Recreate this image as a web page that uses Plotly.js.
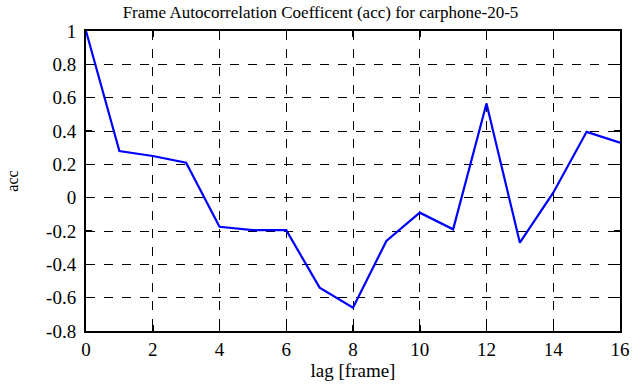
<!DOCTYPE html>
<html>
<head>
<meta charset="utf-8">
<script src="https://cdn.plot.ly/plotly-3.0.1.min.js"></script>
<style>html,body{margin:0;padding:0;background:#fff;}#chart{width:641px;height:387px;}</style>
</head>
<body>
<div id="chart"></div>
<script>
const lags = [0,1,2,3,4,5,6,7,8,9,10,11,12,13,14,15,16];
const acc = [1.0,0.28,0.25,0.21,-0.175,-0.195,-0.195,-0.54,-0.66,-0.26,-0.09,-0.19,0.565,-0.27,0.03,0.395,0.33];
const xTicks = [0,2,4,6,8,10,12,14,16];
const yTicks = [-0.8,-0.6,-0.4,-0.2,0,0.2,0.4,0.6,0.8,1];
const yTickText = ['-0.8','-0.6','-0.4','-0.2','0','0.2','0.4','0.6','0.8','1'];

const fam = '"Liberation Serif", "Times New Roman", serif';
const tickFont = {family: fam, size: 19, color: '#000'};
const titleFont = {family: fam, size: 17, color: '#000'};
const xTitleFont = {family: fam, size: 19, color: '#000'};
const yTitleFont = {family: fam, size: 16, color: '#000'};
Plotly.newPlot('chart', [{
  x: lags, y: acc, type: 'scatter', mode: 'lines',
  line: {color: '#0000ff', width: 2.2}
}], {
  width: 641, height: 387,
  margin: {l: 86, r: 21, t: 31, b: 56},
  paper_bgcolor: '#fff', plot_bgcolor: '#fff',
  font: tickFont,
  showlegend: false,
  title: {text: 'Frame Autocorrelation Coefficent (acc) for carphone-20-5', font: titleFont, x: 0.5, xanchor: 'center', y: 0.985, yanchor: 'top'},
  xaxis: {
    range: [0,16], tickvals: xTicks, ticktext: xTicks.map(String),
    ticks: 'inside', ticklen: 6, tickwidth: 1.5, tickcolor: '#000',
    showline: true, linecolor: '#000', linewidth: 2, mirror: 'ticks',
    showgrid: true, gridcolor: '#000', griddash: 'dash', gridwidth: 1,
    zeroline: false,
    title: {text: 'lag [frame]', font: xTitleFont, standoff: 5},
    tickfont: tickFont
  },
  yaxis: {
    range: [-0.8,1], tickvals: yTicks, ticktext: yTickText,
    ticks: 'inside', ticklen: 6, tickwidth: 1.5, tickcolor: '#000',
    showline: true, linecolor: '#000', linewidth: 2, mirror: 'ticks',
    showgrid: true, gridcolor: '#000', griddash: 'dash', gridwidth: 1,
    zeroline: false, ticklabelstandoff: 4,
    title: {text: 'acc', font: yTitleFont, standoff: 24},
    tickfont: tickFont
  }
}, {displayModeBar: false, staticPlot: true});
</script>
</body>
</html>
